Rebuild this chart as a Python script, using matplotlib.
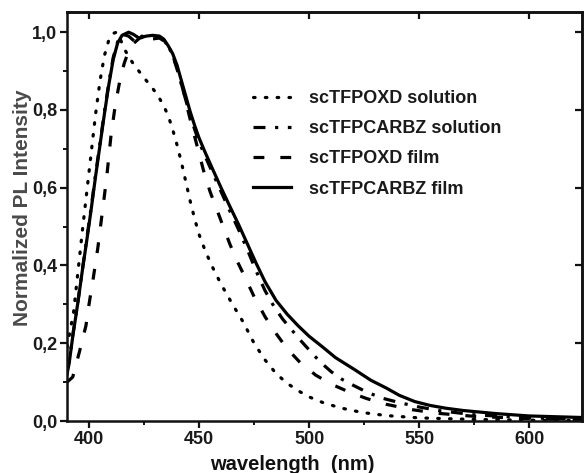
import matplotlib
matplotlib.use('Agg')
import matplotlib.pyplot as plt
from matplotlib.ticker import MultipleLocator, FuncFormatter, FixedLocator

plt.rcParams['font.family'] = ['Liberation Sans', 'DejaVu Sans']

# ---- data ----
wl_oxd_sol = [390, 391, 393, 395, 397, 399, 401, 403, 405, 407, 409, 411, 412.5, 414, 416, 418,
              420, 424, 428, 431, 434, 436, 438, 440, 442, 444, 446, 448, 450, 453, 456, 460, 465,
              470, 475, 480, 485, 490, 495, 500, 506, 514, 524, 535, 550, 575, 600, 624]
pl_oxd_sol = [0.19, 0.22, 0.28, 0.385, 0.49, 0.59, 0.69, 0.79, 0.875, 0.94, 0.98, 0.997, 1.0,
              0.985, 0.958, 0.937, 0.92, 0.89, 0.862, 0.84, 0.81, 0.785, 0.75, 0.71, 0.665, 0.615,
              0.565, 0.52, 0.48, 0.435, 0.397, 0.352, 0.302, 0.255, 0.20, 0.157, 0.122, 0.097,
              0.078, 0.062, 0.048, 0.034, 0.022, 0.014, 0.008, 0.004, 0.002, 0.001]

wl_carbz_sol = [390, 391, 392.6, 394.9, 397, 399, 401, 403, 405, 407, 409, 411, 413, 415, 418, 421,
                424, 428, 432, 434, 436, 438, 440, 442, 444, 446, 448, 450, 453, 456, 460, 464, 468,
                472, 476, 480, 484, 488, 492, 496, 500, 505, 510, 515, 520, 526, 533, 542, 550, 560,
                575, 600, 624]
pl_carbz_sol = [0.13, 0.155, 0.22, 0.305, 0.39, 0.47, 0.55, 0.635, 0.715, 0.795, 0.87, 0.935,
                0.975, 0.995, 0.99, 0.975, 0.99, 0.982, 0.985, 0.978, 0.965, 0.94, 0.905, 0.865,
                0.825, 0.785, 0.75, 0.718, 0.678, 0.64, 0.59, 0.54, 0.492, 0.44, 0.385, 0.335,
                0.295, 0.262, 0.235, 0.208, 0.183, 0.152, 0.127, 0.107, 0.092, 0.075, 0.059, 0.046,
                0.036, 0.026, 0.016, 0.008, 0.004]

wl_oxd_film = [390, 392.6, 395.6, 398.6, 400, 402, 404, 406, 408, 410, 412, 414, 416, 418, 420,
               423, 427, 431, 434, 437, 440, 443, 446, 449, 452, 455, 458, 461, 464, 467, 470, 475,
               480, 485, 490, 496, 503, 510, 518, 526, 535, 547, 558, 575, 600, 624]
pl_oxd_film = [0.10, 0.113, 0.177, 0.245, 0.30, 0.37, 0.445, 0.535, 0.625, 0.735, 0.815, 0.875,
               0.92, 0.952, 0.97, 0.985, 0.99, 0.99, 0.98, 0.955, 0.91, 0.845, 0.775, 0.71, 0.645,
               0.59, 0.545, 0.50, 0.455, 0.415, 0.38, 0.32, 0.268, 0.225, 0.186, 0.15, 0.118,
               0.095, 0.075, 0.058, 0.043, 0.029, 0.02, 0.012, 0.006, 0.003]

wl_carbz_film = [390, 391, 392.6, 394.9, 397, 399, 401, 403, 405, 407, 409, 411, 413, 415, 418,
                 420, 422.7, 426, 429, 432, 434, 436, 438, 440, 442, 444, 446, 448, 450, 453, 456,
                 460, 464, 468, 472, 476, 480, 485, 490, 495, 500, 506, 512, 521, 528, 535, 541,
                 548, 555, 562, 570, 585, 600, 624]
pl_carbz_film = [0.12, 0.149, 0.217, 0.303, 0.388, 0.465, 0.545, 0.63, 0.71, 0.79, 0.865, 0.93,
                 0.972, 0.992, 1.0, 0.995, 0.985, 0.99, 0.992, 0.99, 0.982, 0.965, 0.945, 0.915,
                 0.875, 0.835, 0.795, 0.76, 0.728, 0.688, 0.65, 0.60, 0.552, 0.505, 0.455, 0.405,
                 0.358, 0.31, 0.275, 0.245, 0.218, 0.191, 0.163, 0.131, 0.105, 0.085, 0.066, 0.05,
                 0.04, 0.033, 0.027, 0.019, 0.013, 0.009]

labels = ["scTFPOXD solution", "scTFPCARBZ solution", "scTFPOXD film", "scTFPCARBZ film"]
x_major = [400, 450, 500, 550, 600]
y_major = [0.0, 0.2, 0.4, 0.6, 0.8, 1.0]

# ---- figure ----
fig = plt.figure(figsize=(5.84, 4.73), dpi=100)
ax = fig.add_axes([67/584, 1-421/473, (582-67)/584, (421-12)/473])

lw = 2.3
ax.plot(wl_oxd_sol, pl_oxd_sol, color='black', lw=lw, dashes=(0.5, 3.2),
        dash_capstyle='round', label=labels[0])
ax.plot(wl_carbz_sol, pl_carbz_sol, color='black', lw=lw, dashes=(3.75, 3.0, 1.0, 3.0),
        label=labels[1])
ax.plot(wl_oxd_film, pl_oxd_film, color='black', lw=lw, dashes=(3.4, 5.0), label=labels[2])
ax.plot(wl_carbz_film, pl_carbz_film, color='black', lw=lw, label=labels[3])

ax.set_xlim(390, 624)
ax.set_ylim(0, 1.052)

for s in ax.spines.values():
    s.set_linewidth(1.8)
    s.set_color('#111111')

ax.xaxis.set_major_locator(FixedLocator(x_major))
ax.xaxis.set_minor_locator(MultipleLocator(25))
ax.yaxis.set_major_locator(FixedLocator(y_major))
ax.yaxis.set_minor_locator(MultipleLocator(0.1))
ax.yaxis.set_major_formatter(FuncFormatter(lambda v, p: f"{v:.1f}".replace('.', ',')))

ax.tick_params(which='major', direction='out', length=5, width=1.6, colors='#111111',
               labelsize=13, pad=2, labelcolor='#1a1a1a')
ax.tick_params(which='minor', direction='out', length=3, width=1.4, colors='#111111')
for t in ax.get_xticklabels() + ax.get_yticklabels():
    t.set_fontweight('bold')

# inward ticks on top and right
secx = ax.secondary_xaxis('top')
secx.set_xticks(x_major)
secx.tick_params(direction='in', length=5, width=1.6, labeltop=False, colors='#111111')
secx.spines['top'].set_linewidth(1.8)
secy = ax.secondary_yaxis('right')
secy.set_yticks(y_major[1:])
secy.tick_params(direction='in', length=5, width=1.6, labelright=False, colors='#111111')
secy.spines['right'].set_linewidth(1.8)

ax.set_xlabel("wavelength  (nm)", fontsize=14.5, fontweight='bold', color='#111111')
ax.xaxis.set_label_coords((292-67)/515, -0.083)
ax.set_ylabel("Normalized PL Intensity", fontsize=15, fontweight='bold', color='#4a4a4a')
ax.yaxis.set_label_coords((32-67)/515, (421-208)/409)

leg = ax.legend(loc='upper left', bbox_to_anchor=((253-67)/515, (421-90)/409),
                frameon=False, fontsize=13, handlelength=2.1, handletextpad=1.0,
                labelspacing=0.73, borderpad=0, borderaxespad=0)
for t in leg.get_texts():
    t.set_fontweight('bold')
    t.set_color('#1a1a1a')

fig.savefig('out.png', dpi=100)
